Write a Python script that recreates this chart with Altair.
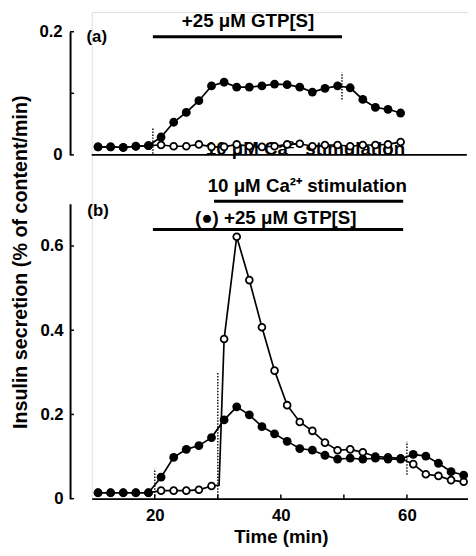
import altair as alt
import pandas as pd

FONT = "Liberation Sans"

# ---------------- data ----------------
# panel (a): filled = +25 uM GTP[S], open = control
a_time = [11, 13, 15, 17, 19, 21, 23, 25, 27, 29, 31, 33, 35, 37, 39, 41, 43, 45, 47, 49, 51, 53, 55, 57, 59]
a_gtp = [0.013, 0.013, 0.012, 0.014, 0.015, 0.029, 0.053, 0.069, 0.088, 0.112, 0.118, 0.110, 0.110,
         0.112, 0.115, 0.114, 0.110, 0.102, 0.108, 0.112, 0.109, 0.090, 0.077, 0.074, 0.068]
a_ctrl = [0.013, 0.013, 0.012, 0.014, 0.015, 0.016, 0.014, 0.014, 0.017, 0.013, 0.013, 0.017, 0.014,
          0.013, 0.014, 0.017, 0.018, 0.014, 0.016, 0.016, 0.014, 0.016, 0.016, 0.017, 0.021]

# panel (b): filled = GTP[S] + Ca2+, open = Ca2+ only
b_time = [11, 13, 15, 17, 19, 21, 23, 25, 27, 29, 31, 33, 35, 37, 39, 41, 43, 45, 47, 49,
          51, 53, 55, 57, 59, 61, 63, 65, 67, 69]
b_gtp = [0.014, 0.014, 0.014, 0.014, 0.014, 0.051, 0.098, 0.117, 0.126, 0.145,
         0.187, 0.218, 0.199, 0.171, 0.154, 0.136, 0.119, 0.115, 0.103, 0.094,
         0.096, 0.094, 0.096, 0.094, 0.094, 0.105, 0.101, 0.084, 0.064, 0.056]
b_ctrl = [0.014, 0.014, 0.014, 0.014, 0.014, 0.019, 0.019, 0.019, 0.021, 0.030,
          0.379, 0.622, 0.519, 0.407, 0.304, 0.222, 0.182, 0.161, 0.133, 0.115,
          0.117, 0.110, 0.100, 0.098, 0.096, 0.082, 0.058, 0.054, 0.044, 0.040]
# line-only vertex where the Ca2+ trace jumps at 30 min
b_ctrl_jump_t = [30.2]
b_ctrl_jump_v = [0.032]

x_ticks = [20, 40, 60]
x_minor = [20, 30, 40, 50, 60]
a_yticks = [0, 0.2]
a_yminor = [0, 0.1, 0.2]
b_yticks = [0, 0.2, 0.4, 0.6]

Y_TITLE = "Insulin secretion (% of content/min)"

# ---------------- tables ----------------
a_g = pd.DataFrame({"t": a_time, "v": a_gtp})
a_c = pd.DataFrame({"t": a_time, "v": a_ctrl})
b_g = pd.DataFrame({"t": b_time, "v": b_gtp})
b_c_pts = pd.DataFrame({"t": b_time, "v": b_ctrl})
b_c_line = pd.concat([b_c_pts, pd.DataFrame({"t": b_ctrl_jump_t, "v": b_ctrl_jump_v})]).sort_values("t")

a_dots = pd.DataFrame({"t": [19.7, 49.7], "v1": [0.002, 0.090], "v2": [0.045, 0.134]})
b_dots = pd.DataFrame({"t": [20, 30, 60], "v1": [0.007, 0.0, 0.057], "v2": [0.071, 0.300, 0.135]})

a_bars = pd.DataFrame({"t1": [19.7], "t2": [49.7], "v": [0.192]})
b_bars = pd.DataFrame({"t1": [19.7, 29.4], "t2": [59.4, 59.4], "v": [0.639, 0.706]})

a_base = pd.DataFrame({"t1": [10], "t2": [69.5], "v": [0]})

a_text = pd.DataFrame({"t": [34.8], "v": [0.218], "label": ["+25 \u03bcM GTP[S]"]})
a_ghost = pd.DataFrame({"t": [43.9], "v": [0.0], "label": ["10 \u03bcM Ca\u00b2\u207a stimulation"]})
b_text = pd.DataFrame({"t": [44.2, 39.2], "v": [0.742, 0.667],
                       "label": ["10 \u03bcM Ca\u00b2\u207a stimulation", "(\u25cf) +25 \u03bcM GTP[S]"]})
a_lab = pd.DataFrame({"t": [10.8], "v": [0.192], "label": ["(a)"]})
b_lab = pd.DataFrame({"t": [11.0], "v": [0.683], "label": ["(b)"]})

AX_T = 10 - 22 / 6.4
a_ytk = pd.DataFrame({"t1": AX_T, "t2": AX_T + 0.62, "v": a_yminor})
b_ytk = pd.DataFrame({"t1": AX_T, "t2": AX_T + 0.62, "v": b_yticks})
b_xtk = pd.DataFrame({"t": x_minor, "v1": 0.0, "v2": 0.010})

ytitle_df = pd.DataFrame({"label": [Y_TITLE]})

# ---------------- scales / axes ----------------
xs = alt.Scale(domain=[10, 70], range=[0, 384], nice=False, zero=False)
x_axis = alt.Axis(values=x_ticks, format="d", ticks=False, grid=False, domainColor="black",
                  domainWidth=2, labelFontSize=17, labelFontWeight="bold", labelColor="black",
                  labelPadding=9, title="Time (min)", titleFontSize=19, titleFontWeight="bold",
                  titleColor="black", titlePadding=5)

ya_scale = alt.Scale(domain=[0, 0.2], range=[145, 20], nice=False, zero=False)
ya_axis = alt.Axis(orient="left", offset=22, values=a_yticks, format="~g", ticks=False, grid=False,
                   domainColor="black", domainWidth=2, labelFontSize=17, labelFontWeight="bold",
                   labelColor="black", labelPadding=8, title="")
yb_scale = alt.Scale(domain=[0, 0.7], range=[494, 194.75], nice=False, zero=False)
yb_axis = alt.Axis(orient="left", offset=22, values=b_yticks, format="~g", ticks=False, grid=False,
                   domainColor="black", domainWidth=2, labelFontSize=17, labelFontWeight="bold",
                   labelColor="black", labelPadding=7, title="")


def X(field="t"):
    return alt.X(f"{field}:Q", scale=xs, axis=x_axis)


def YA(field="v"):
    return alt.Y(f"{field}:Q", scale=ya_scale, axis=ya_axis)


def YB(field="v"):
    return alt.Y(f"{field}:Q", scale=yb_scale, axis=yb_axis)


LW = 1.7
OPEN = dict(shape="circle", filled=True, fill="white", stroke="black", strokeWidth=1.8, size=48, opacity=1)
FILL = dict(shape="circle", filled=True, color="black", size=80, opacity=1)
TXT = dict(font=FONT, fontWeight="bold", color="black", align="center", baseline="middle")


def panel(Y, g, c_line, c_pts, dots, bars, texts, lab, ytk, extra):
    layers = list(extra)
    layers += [
        alt.Chart(dots).mark_rule(color="black", strokeWidth=1.4, strokeDash=[1.5, 1.5]).encode(
            x=X("t"), y=Y("v1"), y2="v2:Q"),
        alt.Chart(c_line).mark_line(color="black", strokeWidth=LW).encode(x=X("t"), y=Y("v"), order="t:Q"),
        alt.Chart(c_pts).mark_point(**OPEN).encode(x=X("t"), y=Y("v")),
        alt.Chart(g).mark_line(color="black", strokeWidth=LW).encode(x=X("t"), y=Y("v"), order="t:Q"),
        alt.Chart(g).mark_point(**FILL).encode(x=X("t"), y=Y("v")),
        alt.Chart(bars).mark_rule(color="black", strokeWidth=3).encode(x=X("t1"), x2="t2:Q", y=Y("v")),
        alt.Chart(texts).mark_text(fontSize=19, **TXT).encode(x=X("t"), y=Y("v"), text="label:N"),
        alt.Chart(lab).mark_text(fontSize=17, **TXT).encode(x=X("t"), y=Y("v"), text="label:N"),
        alt.Chart(ytk).mark_rule(color="black", strokeWidth=1.5).encode(x=X("t1"), x2="t2:Q", y=Y("v")),
    ]
    return alt.layer(*layers)


top = panel(
    YA, a_g, a_c, a_c, a_dots, a_bars, a_text, a_lab, a_ytk,
    [
        alt.Chart(a_ghost).mark_text(fontSize=19, font=FONT, fontWeight="bold", color="black",
                                     align="center", baseline="alphabetic").encode(
            x=X("t"), y=YA("v"), text="label:N"),
        alt.Chart(a_base).mark_rule(color="black", strokeWidth=2).encode(x=X("t1"), x2="t2:Q", y=YA("v")),
    ],
)

bottom = panel(
    YB, b_g, b_c_line, b_c_pts, b_dots, b_bars, b_text, b_lab, b_ytk,
    [
        alt.Chart(b_xtk).mark_rule(color="black", strokeWidth=1.5).encode(x=X("t"), y=YB("v1"), y2="v2:Q"),
        alt.Chart(ytitle_df).mark_text(angle=270, fontSize=20, **TXT).encode(
            x=alt.value(-72), y=alt.value(254), text="label:N"),
    ],
)

chart = (
    alt.layer(top, bottom)
    .resolve_scale(y="independent")
    .properties(width=382, height=494, autosize="none",
                padding={"left": 85, "top": 0, "right": 0, "bottom": 46})
    .configure_view(strokeWidth=0)
    .configure_axis(labelFont=FONT, titleFont=FONT)
    .configure(background="white")
)

chart.save("out.html", embed_options={"renderer": "svg", "actions": False})
